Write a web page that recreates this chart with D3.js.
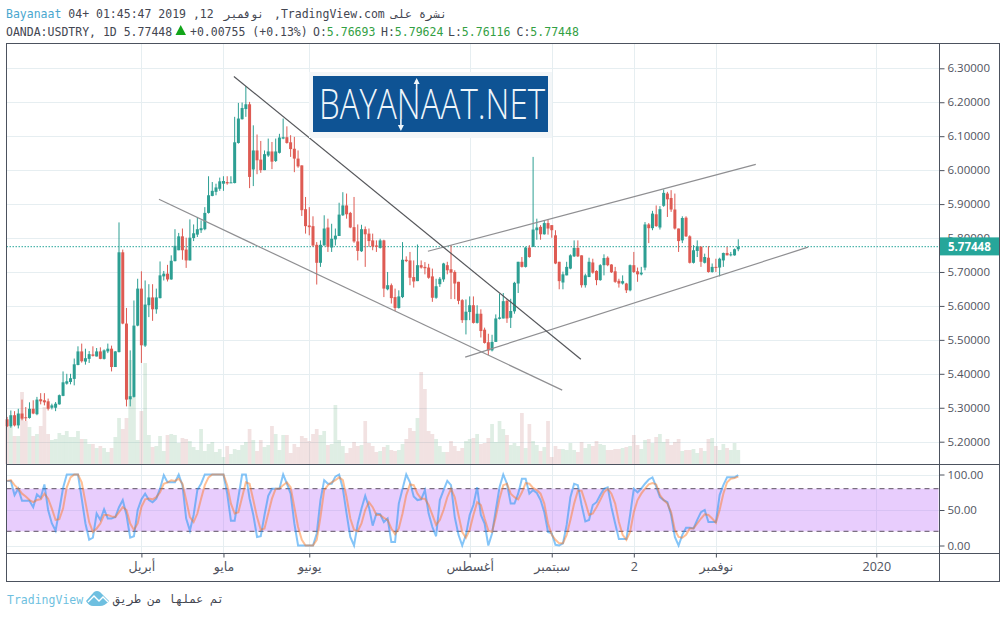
<!DOCTYPE html>
<html lang="ar">
<head>
  <meta charset="utf-8" />
  <title>USDTRY daily</title>
  <style>
    body { margin: 0; background: #fff; }
    svg { display: block; }
    .mono { font-family: "DejaVu Sans Mono", monospace; font-size: 11.5px; fill: #434651; }
    .axis text { font-family: "Open Sans", "DejaVu Sans", sans-serif; font-size: 11.5px; fill: #50535e; }
    .time text { font-size: 12.5px; }
    .axis line { stroke: #4c525e; }
    .axis path { display: none; }
    .grid line { stroke: #e6eef1; stroke-width: 1; }
  </style>
</head>
<body>
  <svg width="1006" height="618"></svg>

  <script src="https://d3js.org/d3.v7.min.js"></script>
  <script>
    const opens = [
      5.266,5.245,5.278,5.248,5.283,5.272,5.270,5.297,5.281,5.325,
      5.322,5.319,5.300,5.300,5.310,5.335,5.371,5.376,5.385,5.426,
      5.466,5.436,5.444,5.457,5.451,5.466,5.444,5.466,5.474,5.420,
      5.464,5.758,5.548,5.325,5.332,5.542,5.651,5.483,5.602,5.625,
      5.590,5.623,5.687,5.695,5.678,5.732,5.764,5.805,5.766,5.734,
      5.800,5.810,5.823,5.826,5.874,5.924,5.936,5.945,5.960,5.965,
      5.962,5.962,6.080,6.150,6.180,6.194,6.002,6.058,6.031,6.000,
      6.043,6.055,6.027,6.051,6.093,6.097,6.082,6.063,6.034,6.014,
      5.885,5.837,5.835,5.780,5.727,5.778,5.831,5.772,5.796,5.806,
      5.867,5.896,5.874,5.832,5.790,5.761,5.826,5.813,5.793,5.778,
      5.771,5.793,5.649,5.661,5.626,5.594,5.626,5.736,5.734,5.685,
      5.673,5.720,5.715,5.713,5.687,5.624,5.664,5.678,5.720,5.708,
      5.700,5.671,5.617,5.558,5.582,5.602,5.550,5.577,5.530,5.493,
      5.469,5.494,5.562,5.563,5.615,5.565,5.584,5.666,5.730,5.715,
      5.772,5.774,5.823,5.833,5.811,5.844,5.838,5.808,5.730,5.669,
      5.690,5.710,5.746,5.771,5.749,5.661,5.685,5.728,5.703,5.676,
      5.720,5.742,5.722,5.702,5.674,5.666,5.666,5.646,5.720,5.702,
      5.693,5.713,5.840,5.829,5.870,5.831,5.895,5.931,5.918,5.884,
      5.828,5.793,5.860,5.805,5.727,5.762,5.774,5.727,5.742,5.700,
      5.715,5.713,5.734,5.756,5.750,5.749,5.76693
    ];
    const highs = [
      5.273,5.292,5.290,5.297,5.324,5.302,5.316,5.322,5.332,5.343,
      5.343,5.327,5.312,5.317,5.339,5.407,5.400,5.400,5.445,5.481,
      5.489,5.474,5.467,5.481,5.476,5.478,5.472,5.489,5.483,5.467,
      5.846,5.766,5.594,5.469,5.616,5.680,5.702,5.675,5.664,5.664,
      5.651,5.731,5.703,5.721,5.749,5.826,5.815,5.828,5.801,5.855,
      5.840,5.862,5.852,5.891,5.982,5.965,5.960,5.978,5.982,5.982,
      5.982,6.157,6.198,6.199,6.247,6.201,6.132,6.105,6.086,6.058,
      6.093,6.083,6.093,6.107,6.152,6.129,6.103,6.098,6.058,6.014,
      5.921,5.891,5.864,5.788,5.793,5.867,5.857,5.842,5.828,5.904,
      5.935,5.931,5.877,5.921,5.840,5.839,5.834,5.828,5.813,5.793,
      5.798,5.795,5.700,5.666,5.651,5.646,5.788,5.746,5.759,5.734,
      5.781,5.734,5.729,5.724,5.710,5.680,5.685,5.727,5.730,5.779,
      5.705,5.671,5.620,5.619,5.628,5.628,5.602,5.590,5.536,5.518,
      5.515,5.575,5.636,5.638,5.620,5.621,5.671,5.730,5.744,5.774,
      5.779,6.039,5.857,5.838,5.850,5.854,5.838,5.823,5.730,5.701,
      5.730,5.752,5.793,5.793,5.749,5.695,5.742,5.739,5.705,5.723,
      5.752,5.746,5.723,5.715,5.680,5.690,5.668,5.722,5.759,5.713,
      5.715,5.847,5.844,5.880,5.896,5.894,5.943,5.936,5.941,5.931,
      5.828,5.864,5.864,5.808,5.779,5.793,5.776,5.754,5.776,5.725,
      5.739,5.742,5.757,5.774,5.759,5.769,5.79624
    ];
    const lows = [
      5.243,5.241,5.245,5.239,5.263,5.261,5.268,5.281,5.278,5.310,
      5.307,5.292,5.295,5.290,5.309,5.334,5.368,5.369,5.366,5.425,
      5.433,5.427,5.432,5.451,5.451,5.443,5.442,5.461,5.407,5.420,
      5.463,5.546,5.304,5.304,5.330,5.540,5.432,5.479,5.567,5.556,
      5.577,5.622,5.675,5.672,5.677,5.731,5.764,5.736,5.712,5.734,
      5.791,5.803,5.815,5.823,5.872,5.923,5.926,5.939,5.939,5.957,
      5.962,5.961,6.078,6.149,6.157,5.947,5.953,5.988,5.992,6.000,
      6.039,6.003,6.024,6.049,6.091,6.078,6.039,5.994,6.007,5.865,
      5.813,5.808,5.774,5.663,5.715,5.778,5.759,5.759,5.778,5.806,
      5.865,5.857,5.829,5.786,5.734,5.759,5.715,5.774,5.764,5.759,
      5.769,5.626,5.646,5.607,5.585,5.592,5.623,5.729,5.661,5.654,
      5.673,5.710,5.693,5.680,5.612,5.621,5.656,5.671,5.693,5.620,
      5.620,5.605,5.550,5.516,5.558,5.548,5.548,5.507,5.489,5.455,
      5.466,5.494,5.560,5.563,5.550,5.535,5.577,5.638,5.713,5.713,
      5.742,5.774,5.795,5.795,5.810,5.810,5.801,5.723,5.649,5.649,
      5.690,5.708,5.744,5.744,5.654,5.654,5.685,5.695,5.661,5.674,
      5.690,5.717,5.697,5.668,5.654,5.663,5.638,5.643,5.697,5.671,
      5.690,5.705,5.785,5.823,5.833,5.825,5.892,5.862,5.877,5.825,
      5.759,5.785,5.803,5.725,5.725,5.744,5.715,5.725,5.698,5.698,
      5.700,5.687,5.715,5.749,5.746,5.748,5.76116
    ];
    const closes = [
      5.245,5.278,5.248,5.283,5.268,5.270,5.297,5.283,5.324,5.319,
      5.316,5.297,5.307,5.312,5.337,5.375,5.378,5.387,5.428,5.466,
      5.437,5.446,5.458,5.453,5.466,5.444,5.469,5.474,5.420,5.466,
      5.758,5.548,5.324,5.334,5.542,5.651,5.484,5.604,5.625,5.590,
      5.625,5.690,5.695,5.678,5.733,5.777,5.805,5.764,5.734,5.801,
      5.814,5.826,5.829,5.874,5.926,5.939,5.949,5.967,5.968,5.961,
      5.964,6.082,6.152,6.183,6.194,5.980,6.058,6.029,6.000,6.047,
      6.055,6.025,6.055,6.096,6.097,6.080,6.062,6.034,6.011,5.882,
      5.835,5.832,5.778,5.727,5.780,5.828,5.774,5.798,5.807,5.869,
      5.896,5.870,5.831,5.790,5.762,5.826,5.811,5.791,5.775,5.774,
      5.793,5.651,5.661,5.623,5.594,5.628,5.736,5.732,5.683,5.672,
      5.720,5.713,5.711,5.683,5.624,5.658,5.680,5.725,5.705,5.698,
      5.666,5.615,5.558,5.583,5.602,5.550,5.577,5.526,5.491,5.469,
      5.494,5.563,5.566,5.614,5.563,5.585,5.668,5.730,5.715,5.772,
      5.744,5.825,5.831,5.811,5.844,5.828,5.823,5.725,5.673,5.693,
      5.715,5.749,5.771,5.746,5.661,5.690,5.730,5.698,5.676,5.720,
      5.741,5.720,5.699,5.671,5.666,5.673,5.646,5.720,5.700,5.693,
      5.698,5.840,5.829,5.872,5.835,5.885,5.933,5.914,5.884,5.828,
      5.791,5.859,5.805,5.727,5.764,5.776,5.730,5.744,5.700,5.715,
      5.713,5.739,5.756,5.749,5.752,5.767,5.77448
    ];
    // no scale in the picture, so volume is in relative units
    const volumes = [
      37,37,28,28,72,43,37,28,30,38,
      57,30,24,25,31,29,33,27,27,33,
      25,25,20,20,16,18,16,12,16,27,
      46,35,46,104,67,24,53,101,29,17,
      18,28,13,29,30,29,21,26,25,23,
      17,14,35,13,20,22,12,15,7,18,
      10,15,14,19,22,35,24,13,24,17,
      19,38,30,14,29,29,11,20,17,28,
      26,23,30,35,29,33,19,20,59,24,
      18,11,16,22,18,19,43,21,18,12,
      13,17,19,14,13,14,20,25,36,33,
      46,92,75,33,30,25,18,12,12,23,
      18,13,16,23,25,26,30,20,21,26,
      40,22,43,35,29,19,21,18,51,16,
      40,23,19,13,17,43,7,18,15,15,
      14,21,14,12,22,16,20,18,23,20,
      19,14,14,15,15,16,17,18,29,19,
      15,24,25,21,27,30,22,25,19,22,
      25,13,14,14,15,11,16,13,25,26,
      18,14,20,16,14,21,14
    ];
    const stochK = [
      91,91,71,80,63,63,63,54,72,67,
      86,50,31,21,50,81,100,100,100,100,
      66,31,8,11,45,36,51,38,38,40,
      54,64,43,11,13,50,65,73,64,61,
      66,80,99,89,89,89,100,85,38,21,
      43,78,87,100,100,100,100,100,100,73,
      35,35,68,100,100,66,43,12,13,43,
      70,80,80,80,100,87,73,31,0,0,
      0,0,0,17,64,92,87,87,97,100,
      80,45,12,0,31,52,70,54,28,45,
      44,33,38,5,5,59,80,100,89,69,
      64,65,78,45,26,13,64,78,91,85,
      40,15,0,15,43,57,82,43,31,0,
      17,50,82,100,87,59,59,73,94,94,
      73,78,74,64,47,19,17,1,0,3,
      29,68,87,85,57,34,36,57,61,71,
      80,82,54,31,9,9,9,43,80,75,
      80,87,93,96,83,68,64,61,43,12,
      0,15,25,25,24,36,47,50,33,33,
      33,71,85,96,96,96,99
    ];
    const stochD = [
      91,92,85,80,73,69,64,61,64,65,
      73,66,52,36,37,52,82,96,100,100,
      89,61,33,19,24,31,43,43,41,40,
      47,54,50,31,22,31,54,65,66,65,
      68,75,87,89,92,91,94,87,64,40,
      33,45,66,85,96,100,100,100,100,85,
      59,45,47,68,89,87,64,40,22,24,
      45,66,80,80,85,89,82,54,26,8,
      0,0,0,8,40,78,85,89,92,96,
      92,68,38,22,20,31,50,61,54,43,
      43,39,36,24,16,24,45,71,86,85,
      73,66,66,57,43,29,36,50,68,80,
      68,43,19,11,22,43,61,57,38,21,
      19,40,66,85,87,73,68,65,75,88,
      87,81,78,73,59,31,15,8,3,3,
      15,36,59,77,77,61,43,45,54,64,
      75,80,73,59,33,15,8,19,47,64,
      73,80,86,88,86,71,64,59,47,22,
      12,11,15,24,24,31,38,44,43,38,
      32,50,73,89,94,95,97
    ];

    const priceTicks = [6.3,6.2,6.1,6.0,5.9,5.8,5.7,5.6,5.5,5.4,5.3,5.2];
    const stochTicks = [100,50,0];
    const timeTicks = [36,58,81,124,146,168,190,233];   // bar numbers
    const timeLabels = ["أبريل","مايو","يونيو","أغسطس","سبتمبر","2","نوفمبر","2020"];
    const lastPrice = 5.77448;

    // drawn trend lines: [bar, price, bar, price]
    const darkTrend = [[60.8,6.276,153.8,5.443]];
    const greyTrends = [[40.7,5.914,148.8,5.352],[112.8,5.761,200.7,6.017],[122.8,5.449,214.7,5.773]];

    const paneLeft = 6.5, paneRight = 939.5, outerRight = 999.5;
    const paneTop = 43.5, mainBottom = 464.5, stochBottom = 553.5, paneBottom = 581.5;

    const svg = d3.select("svg");
    const x = d3.scaleLinear().domain([0, 233]).range([7.1, 876.3]);
    const y = d3.scaleLinear().domain([6.3, 5.2]).range([68.3, 441.7]);
    const yVol = d3.scaleLinear().domain([0, 100]).range([464, 364]);
    const yStoch = d3.scaleLinear().domain([100, 0]).range([474.5, 545.5]);
    const bars = d3.range(opens.length);
    const step = x(1) - x(0);

    // grid
    const grid = svg.append("g").attr("class", "grid");
    grid.selectAll(".h").data(priceTicks).enter().append("line")
      .attr("x1", paneLeft).attr("x2", paneRight)
      .attr("y1", d => Math.round(y(d)) + 0.5).attr("y2", d => Math.round(y(d)) + 0.5);
    grid.selectAll(".s").data(stochTicks).enter().append("line")
      .attr("x1", paneLeft).attr("x2", paneRight)
      .attr("y1", d => Math.round(yStoch(d)) + 0.5).attr("y2", d => Math.round(yStoch(d)) + 0.5);
    grid.selectAll(".v").data(timeTicks).enter().append("line")
      .attr("x1", d => Math.round(x(d)) + 0.5).attr("x2", d => Math.round(x(d)) + 0.5)
      .attr("y1", paneTop).attr("y2", stochBottom);

    // volume
    svg.append("g").selectAll("rect").data(bars).enter().append("rect")
      .attr("x", i => x(i) - step / 2)
      .attr("width", step)
      .attr("y", i => yVol(volumes[i]))
      .attr("height", i => yVol(0) - yVol(volumes[i]))
      .attr("fill", i => closes[i] >= opens[i] ? "rgba(96,170,120,0.2)" : "rgba(190,110,110,0.2)");

    // last price line
    svg.append("line")
      .attr("x1", paneLeft).attr("x2", paneRight)
      .attr("y1", y(lastPrice)).attr("y2", y(lastPrice))
      .attr("stroke", "#26a69a").attr("stroke-dasharray", "1.5 1.5");

    // candles
    const candle = svg.append("g").selectAll("g").data(bars).enter().append("g")
      .attr("fill", i => closes[i] >= opens[i] ? "#2d9f93" : "#de5b53")
      .attr("stroke", i => closes[i] >= opens[i] ? "#2d9f93" : "#de5b53");
    candle.append("line")
      .attr("x1", i => x(i)).attr("x2", i => x(i))
      .attr("y1", i => y(highs[i])).attr("y2", i => y(lows[i]));
    candle.append("rect")
      .attr("stroke", "none")
      .attr("x", i => x(i) - 1.5)
      .attr("width", 3)
      .attr("y", i => y(Math.max(opens[i], closes[i])))
      .attr("height", i => Math.max(1, Math.abs(y(opens[i]) - y(closes[i]))));

    // trend lines
    const trend = (rows, colour) => svg.append("g").selectAll("line").data(rows).enter().append("line")
      .attr("x1", d => x(d[0])).attr("y1", d => y(d[1]))
      .attr("x2", d => x(d[2])).attr("y2", d => y(d[3]))
      .attr("stroke", colour).attr("stroke-width", 1.2);
    trend(greyTrends, "#8f8f92");
    trend(darkTrend, "#55565a");

    // stoch rsi band
    svg.append("rect")
      .attr("x", paneLeft + 0.5).attr("width", paneRight - paneLeft - 1.5)
      .attr("y", yStoch(80)).attr("height", yStoch(20) - yStoch(80))
      .attr("fill", "rgba(189,112,249,0.35)");
    svg.append("g").selectAll("line").data([80, 20]).enter().append("line")
      .attr("x1", paneLeft).attr("x2", paneRight)
      .attr("y1", d => yStoch(d)).attr("y2", d => yStoch(d))
      .attr("stroke", "#5d5063").attr("stroke-dasharray", "5 4");

    const stochLine = d3.line().x((d, i) => x(i)).y(d => yStoch(d));
    svg.append("path").datum(stochK).attr("d", stochLine)
      .attr("fill", "none").attr("stroke", "rgba(33,150,243,0.55)").attr("stroke-width", 2);
    svg.append("path").datum(stochD).attr("d", stochLine)
      .attr("fill", "none").attr("stroke", "rgba(255,112,20,0.45)").attr("stroke-width", 2);

    // axes
    svg.append("g").attr("class", "axis")
      .attr("transform", `translate(${paneRight},0)`)
      .call(d3.axisRight(y).tickValues(priceTicks).tickSize(5).tickPadding(3).tickFormat(d3.format(".5f")));
    svg.append("g").attr("class", "axis")
      .attr("transform", `translate(${paneRight},0)`)
      .call(d3.axisRight(yStoch).tickValues(stochTicks).tickSize(5).tickPadding(3).tickFormat(d3.format(".2f")));
    svg.append("g").attr("class", "axis time")
      .attr("transform", `translate(0,${stochBottom})`)
      .call(d3.axisBottom(x).tickValues(timeTicks).tickSize(4).tickPadding(5)
        .tickFormat(d => timeLabels[timeTicks.indexOf(d)]));

    // frame
    const frame = svg.append("g").attr("stroke", "#4c525e").attr("fill", "none");
    frame.append("rect").attr("x", paneLeft).attr("y", paneTop)
      .attr("width", outerRight - paneLeft).attr("height", paneBottom - paneTop);
    frame.append("line").attr("x1", paneRight).attr("x2", paneRight).attr("y1", paneTop).attr("y2", paneBottom);
    frame.append("line").attr("x1", paneLeft).attr("x2", outerRight).attr("y1", mainBottom).attr("y2", mainBottom);
    frame.append("line").attr("x1", paneLeft).attr("x2", outerRight).attr("y1", stochBottom).attr("y2", stochBottom);

    // last price badge
    svg.append("rect").attr("x", paneRight + 0.5).attr("y", y(lastPrice) - 9.3)
      .attr("width", outerRight - paneRight - 1).attr("height", 18).attr("fill", "#26a69a");
    svg.append("text").attr("x", 948).attr("y", y(lastPrice) + 4.2)
      .attr("fill", "#fff").attr("font-family", "Open Sans, sans-serif")
      .attr("font-size", 11.5).attr("font-weight", "bold")
      .text(d3.format(".5f")(lastPrice));

    // header
    const header = svg.append("text").attr("class", "mono").attr("x", 6).attr("y", 18);
    header.append("tspan").style("fill", "#4aa7cf").text("Bayanaat");
    header.append("tspan").text(" 04+ 01:45:47 2019 ,12");
    svg.append("text").attr("class", "mono").attr("x", 224).attr("y", 18)
      .attr("textLength", 40).attr("lengthAdjust", "spacingAndGlyphs").text("نوفمبر");
    svg.append("text").attr("class", "mono").attr("x", 274).attr("y", 18).text(",TradingView.com");
    svg.append("text").attr("class", "mono").attr("x", 391).attr("y", 18)
      .attr("textLength", 56).attr("lengthAdjust", "spacingAndGlyphs").text("نشرة على");

    svg.append("text").attr("class", "mono").attr("x", 6).attr("y", 36)
      .text("OANDA:USDTRY, 1D 5.77448");
    svg.append("path").attr("d", "M175.5 35 L186 35 L180.7 25 Z").attr("fill", "#12a51a");
    svg.append("text").attr("class", "mono").attr("x", 190).attr("y", 36)
      .text("+0.00755 (+0.13%)");
    [["O:", opens], ["H:", highs], ["L:", lows], ["C:", closes]].forEach((d, i) => {
      const t = svg.append("text").attr("class", "mono").attr("y", 36)
        .attr("x", [313, 381, 448, 516.5][i]).text(d[0]);
      t.append("tspan").style("fill", "#33a043").text(d3.format(".5f")(d[1][opens.length - 1]));
    });

    // logo
    const logo = svg.append("g");
    logo.append("rect").attr("x", 309).attr("y", 72).attr("width", 243).attr("height", 66).attr("fill", "#f3f6f8");
    logo.append("rect").attr("x", 313).attr("y", 76).attr("width", 235).attr("height", 56).attr("fill", "#0e5394");
    const logoText = logo.append("text").attr("x", 319).attr("y", 119)
      .attr("font-family", "Open Sans, sans-serif").attr("font-size", 42).attr("font-weight", 300)
      .attr("fill", "#eef6fb")
      .attr("textLength", 226).attr("lengthAdjust", "spacingAndGlyphs").text("BAYANAAT.NET");
    // the arrows grow out of the stems of the first N
    const nBox = logoText.node().getExtentOfChar(4);
    const stemA = nBox.x + nBox.width * 0.17, stemB = nBox.x + nBox.width * 0.83;
    logo.append("path").attr("d", `M${stemA} 119 V129 M${stemB} 89 V80`)
      .attr("stroke", "#eef6fb").attr("stroke-width", 1.6);
    logo.append("path")
      .attr("d", `M${stemA - 3} 125 h6 l-3 6 Z M${stemB - 3} 84 h6 l-3 -6 Z`)
      .attr("fill", "#eef6fb");

    // footer
    svg.append("text").attr("class", "mono").style("fill", "#6ebfe0").attr("x", 7).attr("y", 604).text("TradingView");
    svg.append("path").attr("d", "M86 601 L94 592 Q97 590 100 592 L109 601 Q105 606 100 606 L93 606 Q89 606 86 601 Z").attr("fill", "#6ebfe0");
    svg.append("path").attr("d", "M88 602 L94 596 L99 601 L103 597 L108 602")
      .attr("fill", "none").attr("stroke", "#fff").attr("stroke-width", 1.4);
    svg.append("text").attr("class", "mono").attr("x", 224).attr("y", 603)
      .attr("direction", "rtl").attr("textLength", 111)
      .text("تم عملها من طريق");
  </script>
</body>
</html>
